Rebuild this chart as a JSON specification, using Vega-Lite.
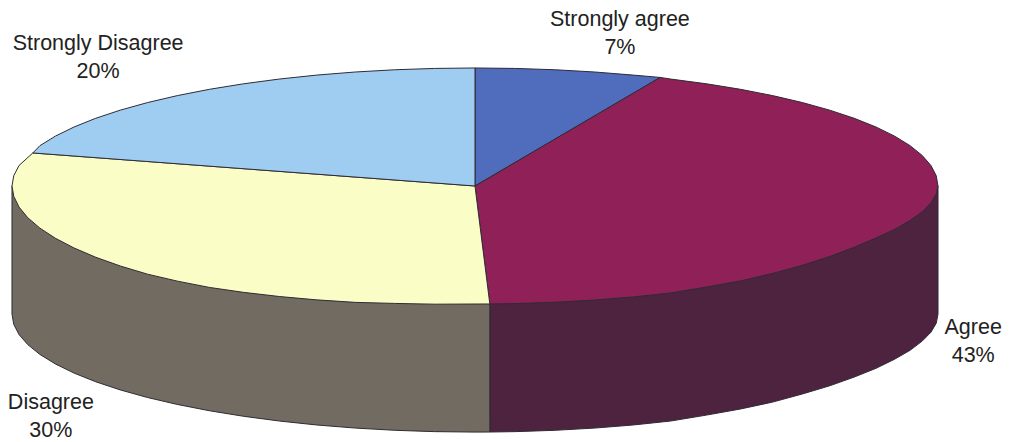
{"$schema":"https://vega.github.io/schema/vega-lite/v6.json","width":1010,"height":442,"padding":0,"autosize":{"type":"none"},"background":"#ffffff","view":{"stroke":null},
"datasets":{"labels":[{"label":"Strongly agree\n7%","slice":"Strongly agree","percent":7,"x":31.3,"y":140.7},{"label":"Agree\n43%","slice":"Agree","percent":43,"x":107.6,"y":-120.4},{"label":"Disagree\n30%","slice":"Disagree","percent":30,"x":-91.6,"y":-183.9},{"label":"Strongly Disagree\n20%","slice":"Strongly Disagree","percent":20,"x":-81.4,"y":120.3}],
"outline":[
{"shape":"Agree side","i":0,"x":100,"y":0},{"shape":"Agree side","i":1,"x":100,"y":-108.5},{"shape":"Agree side","i":2,"x":99.62,"y":-116.22},{"shape":"Agree side","i":3,"x":98.48,"y":-123.86},{"shape":"Agree side","i":4,"x":96.59,"y":-131.38},{"shape":"Agree side","i":5,"x":93.97,"y":-139.2},{"shape":"Agree side","i":6,"x":90.63,"y":-146.76},{"shape":"Agree side","i":7,"x":86.6,"y":-154.5},{"shape":"Agree side","i":8,"x":81.92,"y":-161.86},{"shape":"Agree side","i":9,"x":76.6,"y":-169.28},{"shape":"Agree side","i":10,"x":70.71,"y":-176.21},{"shape":"Agree side","i":11,"x":64.28,"y":-183.1},{"shape":"Agree side","i":12,"x":57.36,"y":-188.92},{"shape":"Agree side","i":13,"x":50,"y":-194.1},{"shape":"Agree side","i":14,"x":42.26,"y":-199.13},{"shape":"Agree side","i":15,"x":34.2,"y":-202.47},{"shape":"Agree side","i":16,"x":25.88,"y":-205.09},{"shape":"Agree side","i":17,"x":17.36,"y":-206.98},{"shape":"Agree side","i":18,"x":8.72,"y":-208.12},{"shape":"Agree side","i":19,"x":3.2,"y":-208.45},{"shape":"Agree side","i":20,"x":3.2,"y":-99.95},{"shape":"Agree side","i":21,"x":100,"y":0},
{"shape":"Disagree side","i":0,"x":3.2,"y":-99.95},{"shape":"Disagree side","i":1,"x":3.2,"y":-208.45},{"shape":"Disagree side","i":2,"x":0,"y":-208.5},{"shape":"Disagree side","i":3,"x":-8.72,"y":-208.12},{"shape":"Disagree side","i":4,"x":-17.36,"y":-206.98},{"shape":"Disagree side","i":5,"x":-25.88,"y":-205.09},{"shape":"Disagree side","i":6,"x":-34.2,"y":-202.47},{"shape":"Disagree side","i":7,"x":-42.26,"y":-199.13},{"shape":"Disagree side","i":8,"x":-50,"y":-195.1},{"shape":"Disagree side","i":9,"x":-57.36,"y":-190.42},{"shape":"Disagree side","i":10,"x":-64.28,"y":-185.1},{"shape":"Disagree side","i":11,"x":-70.71,"y":-179.21},{"shape":"Disagree side","i":12,"x":-76.6,"y":-172.78},{"shape":"Disagree side","i":13,"x":-81.92,"y":-165.86},{"shape":"Disagree side","i":14,"x":-86.6,"y":-158.5},{"shape":"Disagree side","i":15,"x":-90.63,"y":-150.76},{"shape":"Disagree side","i":16,"x":-93.97,"y":-142.7},{"shape":"Disagree side","i":17,"x":-96.59,"y":-134.38},{"shape":"Disagree side","i":18,"x":-98.48,"y":-125.86},{"shape":"Disagree side","i":19,"x":-99.62,"y":-117.22},{"shape":"Disagree side","i":20,"x":-100,"y":-108.5},{"shape":"Disagree side","i":21,"x":-100,"y":0},{"shape":"Disagree side","i":22,"x":3.2,"y":-99.95},
{"shape":"Strongly agree top","i":0,"x":0,"y":0},{"shape":"Strongly agree top","i":1,"x":0,"y":100},{"shape":"Strongly agree top","i":2,"x":8.72,"y":99.62},{"shape":"Strongly agree top","i":3,"x":17.36,"y":98.48},{"shape":"Strongly agree top","i":4,"x":25.88,"y":96.59},{"shape":"Strongly agree top","i":5,"x":34.2,"y":93.97},{"shape":"Strongly agree top","i":6,"x":40,"y":92},{"shape":"Strongly agree top","i":7,"x":0,"y":0},
{"shape":"Agree top","i":0,"x":0,"y":0},{"shape":"Agree top","i":1,"x":40,"y":92},{"shape":"Agree top","i":2,"x":42.26,"y":90.63},{"shape":"Agree top","i":3,"x":50,"y":86.6},{"shape":"Agree top","i":4,"x":57.36,"y":81.92},{"shape":"Agree top","i":5,"x":64.28,"y":76.6},{"shape":"Agree top","i":6,"x":70.71,"y":70.71},{"shape":"Agree top","i":7,"x":76.6,"y":64.28},{"shape":"Agree top","i":8,"x":81.92,"y":57.36},{"shape":"Agree top","i":9,"x":86.6,"y":50},{"shape":"Agree top","i":10,"x":90.63,"y":42.26},{"shape":"Agree top","i":11,"x":93.97,"y":34.2},{"shape":"Agree top","i":12,"x":96.59,"y":25.88},{"shape":"Agree top","i":13,"x":98.48,"y":17.36},{"shape":"Agree top","i":14,"x":99.62,"y":8.72},{"shape":"Agree top","i":15,"x":100,"y":0},{"shape":"Agree top","i":16,"x":99.62,"y":-6.72},{"shape":"Agree top","i":17,"x":98.48,"y":-14.36},{"shape":"Agree top","i":18,"x":96.59,"y":-21.88},{"shape":"Agree top","i":19,"x":93.97,"y":-29.2},{"shape":"Agree top","i":20,"x":90.63,"y":-36.76},{"shape":"Agree top","i":21,"x":86.6,"y":-44},{"shape":"Agree top","i":22,"x":81.92,"y":-51.86},{"shape":"Agree top","i":23,"x":76.6,"y":-59.78},{"shape":"Agree top","i":24,"x":70.71,"y":-67.21},{"shape":"Agree top","i":25,"x":64.28,"y":-74.1},{"shape":"Agree top","i":26,"x":57.36,"y":-80.42},{"shape":"Agree top","i":27,"x":50,"y":-85.6},{"shape":"Agree top","i":28,"x":42.26,"y":-90.63},{"shape":"Agree top","i":29,"x":34.2,"y":-93.97},{"shape":"Agree top","i":30,"x":25.88,"y":-96.59},{"shape":"Agree top","i":31,"x":17.36,"y":-98.48},{"shape":"Agree top","i":32,"x":8.72,"y":-99.62},{"shape":"Agree top","i":33,"x":3.2,"y":-99.95},{"shape":"Agree top","i":34,"x":0,"y":0},
{"shape":"Disagree top","i":0,"x":0,"y":0},{"shape":"Disagree top","i":1,"x":3.2,"y":-99.95},{"shape":"Disagree top","i":2,"x":0,"y":-100},{"shape":"Disagree top","i":3,"x":-8.72,"y":-100.12},{"shape":"Disagree top","i":4,"x":-17.36,"y":-99.48},{"shape":"Disagree top","i":5,"x":-25.88,"y":-98.59},{"shape":"Disagree top","i":6,"x":-34.2,"y":-96.47},{"shape":"Disagree top","i":7,"x":-42.26,"y":-93.63},{"shape":"Disagree top","i":8,"x":-50,"y":-90.1},{"shape":"Disagree top","i":9,"x":-57.36,"y":-85.92},{"shape":"Disagree top","i":10,"x":-64.28,"y":-80.6},{"shape":"Disagree top","i":11,"x":-70.71,"y":-74.71},{"shape":"Disagree top","i":12,"x":-76.6,"y":-67.78},{"shape":"Disagree top","i":13,"x":-81.92,"y":-60.36},{"shape":"Disagree top","i":14,"x":-86.6,"y":-52.5},{"shape":"Disagree top","i":15,"x":-90.63,"y":-44.26},{"shape":"Disagree top","i":16,"x":-93.97,"y":-35.7},{"shape":"Disagree top","i":17,"x":-96.59,"y":-26.88},{"shape":"Disagree top","i":18,"x":-98.48,"y":-17.86},{"shape":"Disagree top","i":19,"x":-99.62,"y":-8.72},{"shape":"Disagree top","i":20,"x":-100,"y":0},{"shape":"Disagree top","i":21,"x":-99.62,"y":8.72},{"shape":"Disagree top","i":22,"x":-98.48,"y":17.36},{"shape":"Disagree top","i":23,"x":-95.5,"y":28},{"shape":"Disagree top","i":24,"x":0,"y":0},
{"shape":"Strongly Disagree top","i":0,"x":0,"y":0},{"shape":"Strongly Disagree top","i":1,"x":-95.5,"y":28},{"shape":"Strongly Disagree top","i":2,"x":-93.97,"y":34.2},{"shape":"Strongly Disagree top","i":3,"x":-90.63,"y":42.26},{"shape":"Strongly Disagree top","i":4,"x":-86.6,"y":50},{"shape":"Strongly Disagree top","i":5,"x":-81.92,"y":57.36},{"shape":"Strongly Disagree top","i":6,"x":-76.6,"y":64.28},{"shape":"Strongly Disagree top","i":7,"x":-70.71,"y":70.71},{"shape":"Strongly Disagree top","i":8,"x":-64.28,"y":76.6},{"shape":"Strongly Disagree top","i":9,"x":-57.36,"y":81.92},{"shape":"Strongly Disagree top","i":10,"x":-50,"y":86.6},{"shape":"Strongly Disagree top","i":11,"x":-42.26,"y":90.63},{"shape":"Strongly Disagree top","i":12,"x":-34.2,"y":93.97},{"shape":"Strongly Disagree top","i":13,"x":-25.88,"y":96.59},{"shape":"Strongly Disagree top","i":14,"x":-17.36,"y":98.48},{"shape":"Strongly Disagree top","i":15,"x":-8.72,"y":99.62},{"shape":"Strongly Disagree top","i":16,"x":0,"y":100},{"shape":"Strongly Disagree top","i":17,"x":0,"y":0}
]},
"data":{"name":"outline"},
"layer":[
{"mark":{"type":"line","stroke":"#2f2b33","strokeWidth":1,"interpolate":"linear","clip":false},
"encoding":{"x":{"field":"x","type":"quantitative","axis":null,"scale":{"domain":[-102.59,115.55],"nice":false,"zero":false}},
"y":{"field":"y","type":"quantitative","axis":null,"scale":{"domain":[-216.9,157.6],"nice":false,"zero":false}},
"order":{"field":"i","type":"quantitative"},
"detail":{"field":"shape"},
"fill":{"field":"shape","type":"nominal","legend":null,"scale":{"domain":["Agree side","Disagree side","Strongly agree top","Agree top","Disagree top","Strongly Disagree top"],"range":["#4d2340","#726b61","#506cbc","#8f2058","#fbfdc6","#9ecdf1"]}}}},
{"data":{"name":"labels"},"mark":{"type":"text","font":"Liberation Sans","fontSize":21.5,"lineBreak":"\n","lineHeight":28,"align":"center","baseline":"middle","color":"#222222"},
"encoding":{"x":{"field":"x","type":"quantitative"},"y":{"field":"y","type":"quantitative"},"text":{"field":"label","type":"nominal"}}}
]}
